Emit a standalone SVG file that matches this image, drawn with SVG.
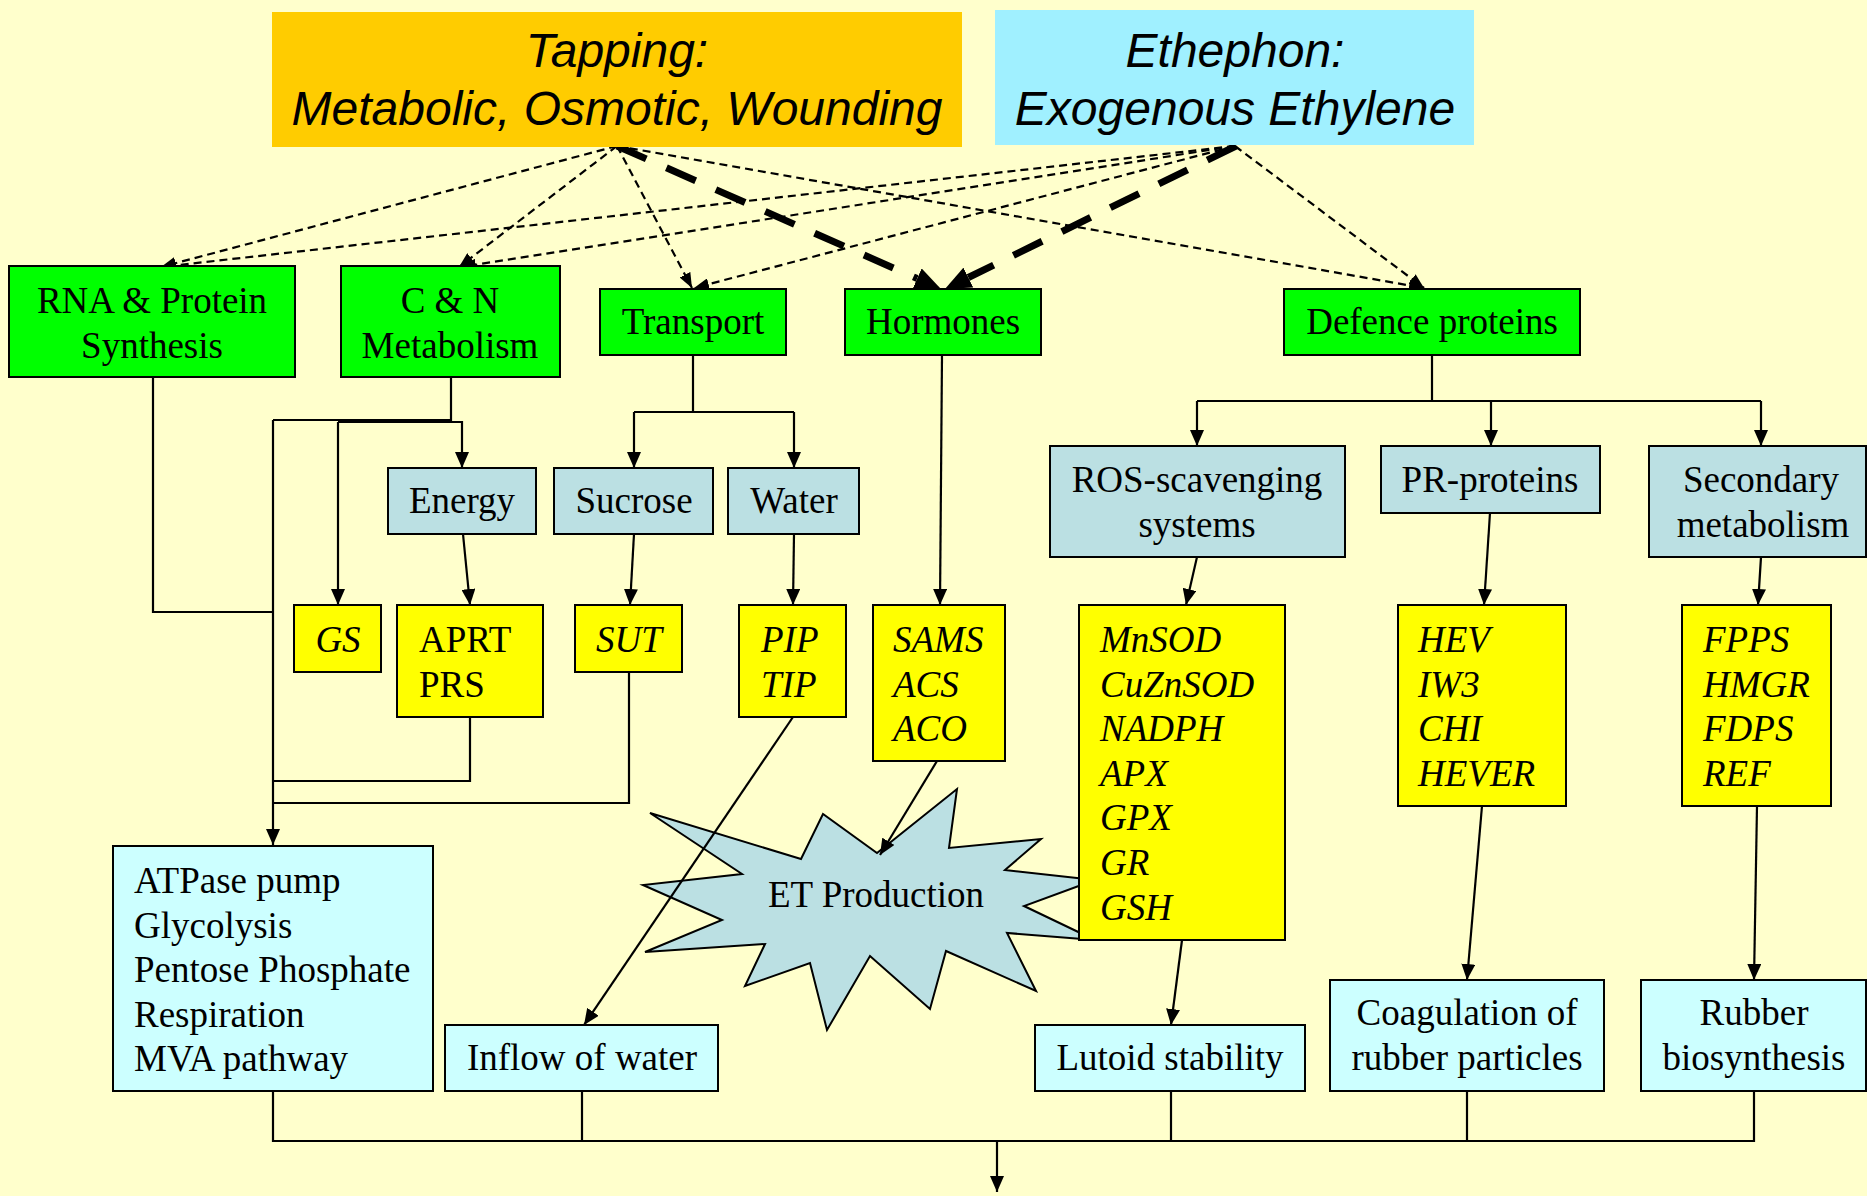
<svg xmlns="http://www.w3.org/2000/svg" width="1867" height="1196" viewBox="0 0 1867 1196">
<defs>
<marker id="ah" markerUnits="userSpaceOnUse" markerWidth="16" markerHeight="14" refX="16" refY="7" orient="auto"><path d="M0,0 L16,7 L0,14 z" fill="#000"/></marker>
<marker id="ahd" markerUnits="userSpaceOnUse" markerWidth="15" markerHeight="12" refX="15" refY="6" orient="auto"><path d="M0,0 L15,6 L0,12 z" fill="#000"/></marker>
<marker id="aht" markerUnits="userSpaceOnUse" markerWidth="26" markerHeight="22" refX="0" refY="11" orient="auto"><path d="M0,0 L26,11 L0,22 z" fill="#000"/></marker>
</defs>
<style>
.bx{stroke:#000;stroke-width:2}
.g{fill:#00FF00}
.lb{fill:#BBE0E3}
.cy{fill:#CCFFFF}
.y{fill:#FFFF00}
.t{font-family:"Liberation Serif","Times New Roman",serif;font-size:37px;fill:#000}
.c{text-anchor:middle}
.i{font-style:italic}
.h{font-family:"Liberation Sans",Arial,sans-serif;font-size:48px;font-style:italic;text-anchor:middle;fill:#000}
.ln{fill:none;stroke:#000;stroke-width:2.2}
.dt{fill:none;stroke:#000;stroke-width:2.2;stroke-dasharray:8 5}
.dk{fill:none;stroke:#000;stroke-width:7;stroke-dasharray:32 22}
</style>
<rect x="0" y="0" width="1867" height="1196" fill="#FFFFCC"/>

<g id="et-production">
<polygon class="lb" stroke="#000" stroke-width="2" points="650,813 801,859 823,814 877,853 957,789 949,848 1041,839 1005,870 1095,880 1024,906 1095,940 1007,933 1036,991 946,951 930,1009 870,956 827,1030 810,963 745,986 765,944 645,952 722,920 643,885 742,874"/>
<text class="t c" x="876" y="907">ET Production</text>
</g>

<g id="connectors">
<!-- dashed from Tapping -->
<path class="dt" d="M617,146 L161,267" marker-end="url(#ahd)"/>
<path class="dt" d="M617,146 L459,267" marker-end="url(#ahd)"/>
<path class="dt" d="M617,146 L692,288" marker-end="url(#ahd)"/>
<path class="dt" d="M617,146 L1424,288" marker-end="url(#ahd)"/>
<path class="dk" d="M617,146 L917.2,278.5" marker-end="url(#aht)"/>
<!-- dashed from Ethephon -->
<path class="dt" d="M1235,146 L161,267" marker-end="url(#ahd)"/>
<path class="dt" d="M1235,146 L461,267" marker-end="url(#ahd)"/>
<path class="dt" d="M1235,146 L694,288" marker-end="url(#ahd)"/>
<path class="dt" d="M1235,146 L1424,288" marker-end="url(#ahd)"/>
<path class="dk" d="M1236,146 L968.3,277.5" marker-end="url(#aht)"/>
<!-- left tree -->
<path class="ln" d="M153,377 V612 H273"/>
<path class="ln" d="M451,377 V420 H273"/>
<path class="ln" d="M273,420 V845" marker-end="url(#ah)"/>
<path class="ln" d="M338,422 H462 V468" marker-end="url(#ah)"/>
<path class="ln" d="M338,422 V605" marker-end="url(#ah)"/>
<path class="ln" d="M470,717 V781 H273"/>
<path class="ln" d="M629,672 V803 H273"/>
<path class="ln" d="M463,534 L470,605" marker-end="url(#ah)"/>
<!-- transport -->
<path class="ln" d="M693,355 V412"/>
<path class="ln" d="M634,412 H794"/>
<path class="ln" d="M634,412 V468" marker-end="url(#ah)"/>
<path class="ln" d="M794,412 V468" marker-end="url(#ah)"/>
<path class="ln" d="M634,534 L630,605" marker-end="url(#ah)"/>
<path class="ln" d="M794,534 L793,605" marker-end="url(#ah)"/>
<path class="ln" d="M793,717 L584,1025" marker-end="url(#ah)"/>
<!-- hormones -->
<path class="ln" d="M942,355 L940,605" marker-end="url(#ah)"/>
<path class="ln" d="M937,761 L880,855" marker-end="url(#ah)"/>
<!-- defence -->
<path class="ln" d="M1432,355 V401"/>
<path class="ln" d="M1197,401 H1761"/>
<path class="ln" d="M1197,401 V446" marker-end="url(#ah)"/>
<path class="ln" d="M1491,401 V446" marker-end="url(#ah)"/>
<path class="ln" d="M1761,401 V446" marker-end="url(#ah)"/>
<path class="ln" d="M1197,557 L1186,605" marker-end="url(#ah)"/>
<path class="ln" d="M1490,513 L1484,605" marker-end="url(#ah)"/>
<path class="ln" d="M1761,557 L1758,605" marker-end="url(#ah)"/>
<path class="ln" d="M1182,940 L1171,1025" marker-end="url(#ah)"/>
<path class="ln" d="M1482,806 L1467,980" marker-end="url(#ah)"/>
<path class="ln" d="M1757,806 L1754,980" marker-end="url(#ah)"/>
<!-- bottom -->
<path class="ln" d="M273,1091 V1141 H1754 V1091"/>
<path class="ln" d="M582,1091 V1141"/>
<path class="ln" d="M1171,1091 V1141"/>
<path class="ln" d="M1467,1091 V1141"/>
<path class="ln" d="M997,1141 V1192" marker-end="url(#ah)"/>
</g>

<g id="tapping">
<rect x="272" y="12" width="690" height="135" fill="#FFCC00"/>
<text class="h" x="617" y="67">Tapping:</text>
<text class="h" x="617" y="125">Metabolic, Osmotic, Wounding</text>
</g>
<g id="ethephon">
<rect x="995" y="10" width="479" height="135" fill="#A0F0FF"/>
<text class="h" x="1235" y="67">Ethephon:</text>
<text class="h" x="1235" y="125">Exogenous Ethylene</text>
</g>

<g id="rna-protein"><rect class="bx g" x="9" y="266" width="286" height="111"/><text class="t c" x="152" y="313">RNA &amp; Protein</text><text class="t c" x="152" y="358">Synthesis</text></g>
<g id="cn-metabolism"><rect class="bx g" x="341" y="266" width="219" height="111"/><text class="t c" x="450" y="313">C &amp; N</text><text class="t c" x="450" y="358">Metabolism</text></g>
<g id="transport"><rect class="bx g" x="600" y="289" width="186" height="66"/><text class="t c" x="693" y="334">Transport</text></g>
<g id="hormones"><rect class="bx g" x="845" y="289" width="196" height="66"/><text class="t c" x="943" y="334">Hormones</text></g>
<g id="defence"><rect class="bx g" x="1284" y="289" width="296" height="66"/><text class="t c" x="1432" y="334">Defence proteins</text></g>

<g id="energy"><rect class="bx lb" x="388" y="468" width="148" height="66"/><text class="t c" x="462" y="513">Energy</text></g>
<g id="sucrose"><rect class="bx lb" x="554" y="468" width="159" height="66"/><text class="t c" x="634" y="513">Sucrose</text></g>
<g id="water"><rect class="bx lb" x="728" y="468" width="131" height="66"/><text class="t c" x="794" y="513">Water</text></g>
<g id="ros"><rect class="bx lb" x="1050" y="446" width="295" height="111"/><text class="t c" x="1197" y="492">ROS-scavenging</text><text class="t c" x="1197" y="537">systems</text></g>
<g id="pr-proteins"><rect class="bx lb" x="1381" y="446" width="219" height="67"/><text class="t c" x="1490" y="492">PR-proteins</text></g>
<g id="secondary"><rect class="bx lb" x="1649" y="446" width="217" height="111"/><text class="t c" x="1761" y="492">Secondary</text><text class="t c" x="1763" y="537">metabolism</text></g>

<g id="gs"><rect class="bx y" x="294" y="605" width="87" height="67"/><text class="t c i" x="338" y="652">GS</text></g>
<g id="aprt"><rect class="bx y" x="397" y="605" width="146" height="112"/><text class="t" x="419" y="652">APRT</text><text class="t" x="419" y="696.6">PRS</text></g>
<g id="sut"><rect class="bx y" x="575" y="605" width="107" height="67"/><text class="t c i" x="629" y="652">SUT</text></g>
<g id="pip"><rect class="bx y" x="739" y="605" width="107" height="112"/><text class="t i" x="761" y="652">PIP</text><text class="t i" x="761" y="696.6">TIP</text></g>
<g id="sams"><rect class="bx y" x="873" y="605" width="132" height="156"/><text class="t i" x="893" y="652">SAMS</text><text class="t i" x="893" y="696.6">ACS</text><text class="t i" x="893" y="741.2">ACO</text></g>
<g id="mnsod"><rect class="bx y" x="1079" y="605" width="206" height="335"/>
<text class="t i" x="1100" y="652">MnSOD</text><text class="t i" x="1100" y="696.6">CuZnSOD</text><text class="t i" x="1100" y="741.2">NADPH</text><text class="t i" x="1100" y="785.8">APX</text><text class="t i" x="1100" y="830.4">GPX</text><text class="t i" x="1100" y="875">GR</text><text class="t i" x="1100" y="919.6">GSH</text></g>
<g id="hev"><rect class="bx y" x="1398" y="605" width="168" height="201"/>
<text class="t i" x="1418" y="652">HEV</text><text class="t i" x="1418" y="696.6">IW3</text><text class="t i" x="1418" y="741.2">CHI</text><text class="t i" x="1418" y="785.8">HEVER</text></g>
<g id="fpps"><rect class="bx y" x="1682" y="605" width="149" height="201"/>
<text class="t i" x="1703" y="652">FPPS</text><text class="t i" x="1703" y="696.6">HMGR</text><text class="t i" x="1703" y="741.2">FDPS</text><text class="t i" x="1703" y="785.8">REF</text></g>

<g id="atpase"><rect class="bx cy" x="113" y="846" width="320" height="245"/>
<text class="t" x="134" y="893">ATPase pump</text><text class="t" x="134" y="937.5">Glycolysis</text><text class="t" x="134" y="982">Pentose Phosphate</text><text class="t" x="134" y="1026.5">Respiration</text><text class="t" x="134" y="1071">MVA pathway</text></g>
<g id="inflow"><rect class="bx cy" x="445" y="1025" width="273" height="66"/><text class="t c" x="582" y="1070">Inflow of water</text></g>
<g id="lutoid"><rect class="bx cy" x="1035" y="1025" width="270" height="66"/><text class="t c" x="1170" y="1070">Lutoid stability</text></g>
<g id="coagulation"><rect class="bx cy" x="1330" y="980" width="274" height="111"/><text class="t c" x="1467" y="1025">Coagulation of</text><text class="t c" x="1467" y="1070">rubber particles</text></g>
<g id="rubber"><rect class="bx cy" x="1641" y="980" width="225" height="111"/><text class="t c" x="1754" y="1025">Rubber</text><text class="t c" x="1754" y="1070">biosynthesis</text></g>
</svg>
